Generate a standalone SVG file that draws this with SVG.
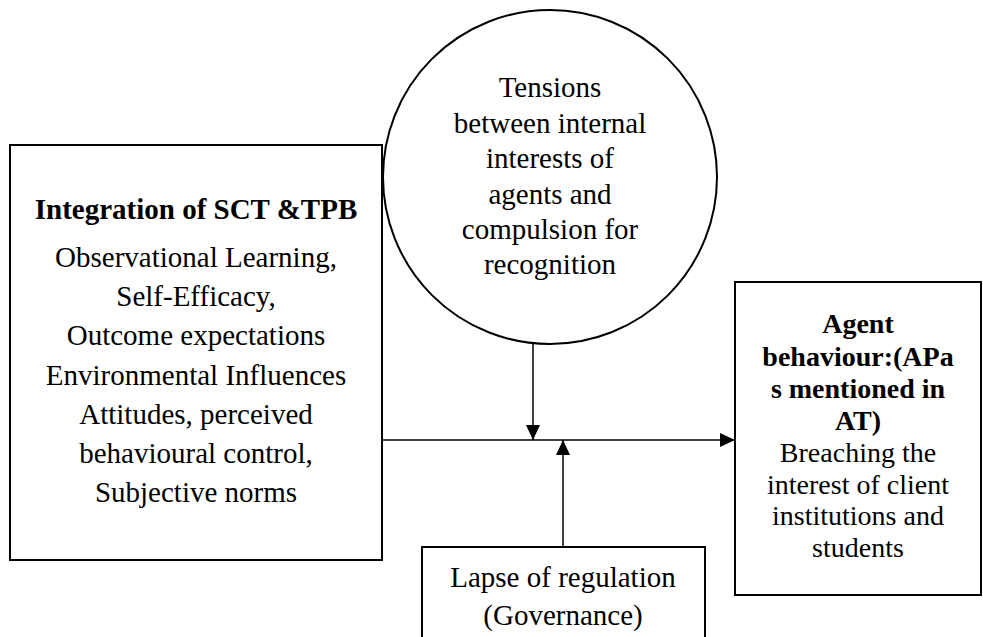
<svg xmlns="http://www.w3.org/2000/svg" width="983" height="637" viewBox="0 0 983 637">
  <style>
    .box { fill: #ffffff; stroke: #000000; stroke-width: 2; }
    text { font-family: "Liberation Serif", "Times New Roman", serif; fill: #000000; text-anchor: middle; }
    .t { font-size: 29px; }
    .tr { font-size: 28px; }
    .b { font-weight: bold; }
    .conn { stroke: #000000; stroke-width: 1.5; fill: none; }
  </style>
  <defs>
    <marker id="arrow" markerUnits="userSpaceOnUse" markerWidth="16" markerHeight="14" refX="15" refY="7" orient="auto">
      <path d="M0,0 L15,7 L0,14 Z" fill="#000000"/>
    </marker>
  </defs>
  <rect x="0" y="0" width="983" height="637" fill="#ffffff"/>

  <g id="node-integration">
    <rect class="box" x="10" y="145" width="372" height="415"/>
    <text class="t b" x="196" y="219">Integration of SCT &amp;TPB</text>
    <text class="t" x="196" y="267">Observational Learning,</text>
    <text class="t" x="196" y="306">Self-Efficacy,</text>
    <text class="t" x="196" y="345">Outcome expectations</text>
    <text class="t" x="196" y="385">Environmental Influences</text>
    <text class="t" x="196" y="424">Attitudes, perceived</text>
    <text class="t" x="196" y="463">behavioural control,</text>
    <text class="t" x="196" y="502">Subjective norms</text>
  </g>

  <g id="node-tensions">
    <circle class="box" cx="550" cy="177" r="167"/>
    <text class="t" x="550" y="97">Tensions</text>
    <text class="t" x="550" y="133">between internal</text>
    <text class="t" x="550" y="168">interests of</text>
    <text class="t" x="550" y="204">agents and</text>
    <text class="t" x="550" y="239">compulsion for</text>
    <text class="t" x="550" y="274">recognition</text>
  </g>

  <g id="node-agent">
    <rect class="box" x="735" y="282" width="246" height="313"/>
    <text class="tr b" x="858" y="333">Agent</text>
    <text class="tr b" x="858" y="366">behaviour:(APa</text>
    <text class="tr b" x="858" y="398">s mentioned in</text>
    <text class="tr b" x="858" y="430">AT)</text>
    <text class="tr" x="858" y="462">Breaching the</text>
    <text class="tr" x="858" y="494">interest of client</text>
    <text class="tr" x="858" y="525">institutions and</text>
    <text class="tr" x="858" y="557">students</text>
  </g>

  <g id="node-lapse">
    <rect class="box" x="422" y="547" width="283" height="100"/>
    <text class="t" x="563" y="587">Lapse of regulation</text>
    <text class="t" x="563" y="625">(Governance)</text>
  </g>

  <g id="connectors">
    <line class="conn" x1="382" y1="440" x2="735" y2="440" marker-end="url(#arrow)"/>
    <line class="conn" x1="533" y1="344" x2="533" y2="440" marker-end="url(#arrow)"/>
    <line class="conn" x1="563" y1="547" x2="563" y2="440" marker-end="url(#arrow)"/>
  </g>
</svg>
